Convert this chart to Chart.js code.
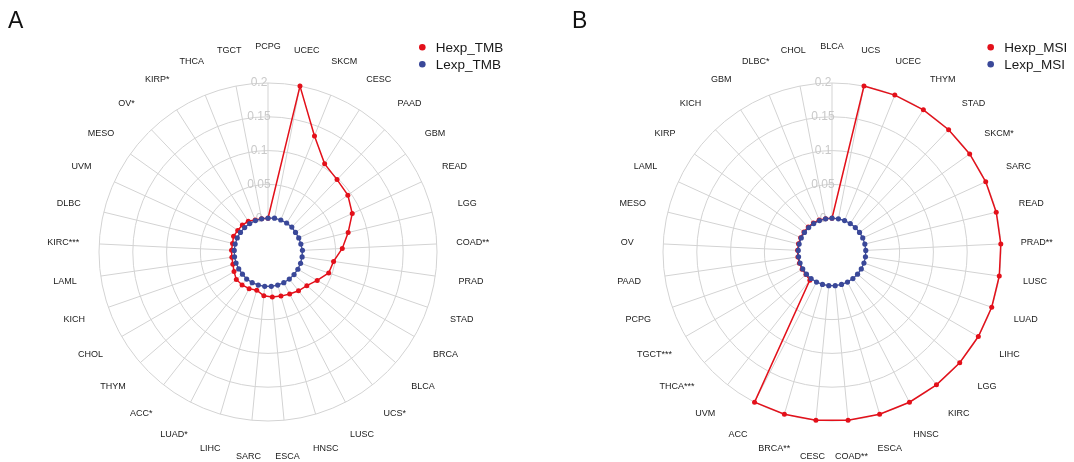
<!DOCTYPE html>
<html>
<head>
<meta charset="utf-8">
<script src="https://cdn.jsdelivr.net/npm/chart.js@4"></script>
<style>
  html, body { margin: 0; padding: 0; background: #fff; }
  #wrap { position: relative; width: 1074px; height: 462px; overflow: hidden; }
  .panel { position: absolute; top: 0; width: 537px; height: 462px; }
  .tag { position: absolute; top: 8px; font: 23px "Liberation Sans", Arial, sans-serif; color: #111; line-height: 1.117; }
</style>
</head>
<body>
<div id="wrap">
  <div class="panel" style="left:0"><canvas id="chartA"></canvas></div>
  <div class="panel" style="left:537px"><canvas id="chartB"></canvas></div>
  <div class="tag" style="left:8px">A</div>
  <div class="tag" style="left:572px">B</div>
</div>
<script>
// panel A: TMB
var labelsA = ['PCPG','UCEC','SKCM','CESC','PAAD','GBM','READ','LGG','COAD**','PRAD','STAD','BRCA','BLCA','UCS*','LUSC','HNSC','ESCA','SARC','LIHC','LUAD*','ACC*','THYM','CHOL','KICH','LAML','KIRC***','DLBC','UVM','MESO','OV*','KIRP*','THCA','TGCT'];
var hexpTMB = [0, 0.2, 0.135, 0.105, 0.098, 0.095, 0.087, 0.072, 0.06, 0.048, 0.045, 0.034, 0.026, 0.023, 0.02, 0.018, 0.017, 0.015, 0.009, 0.011, 0.012, 0.012, 0.008, 0.005, 0.004, 0.004, 0.004, 0.006, 0.005, 0.005, 0.004, 0.001, 0];
var lexpTMB = [0, 0.001, 0.001, 0.001, 0.001, 0, 0, 0, 0.001, 0.001, 0.001, 0.001, 0.001, 0.001, 0.001, 0.001, 0.001, 0.001, 0.001, 0.001, 0.001, 0, 0, 0, 0, 0, 0, 0, 0, 0, 0, 0, 0];

// panel B: MSI
var labelsB = ['BLCA','UCS','UCEC','THYM','STAD','SKCM*','SARC','READ','PRAD**','LUSC','LUAD','LIHC','LGG','KIRC','HNSC','ESCA','COAD**','CESC','BRCA**','ACC','UVM','THCA***','TGCT***','PCPG','PAAD','OV','MESO','LAML','KIRP','KICH','GBM','DLBC*','CHOL'];
var hexpMSI = [0, 0.2, 0.2, 0.2, 0.2, 0.2, 0.2, 0.2, 0.2, 0.2, 0.2, 0.2, 0.2, 0.2, 0.2, 0.2, 0.2, 0.2, 0.2, 0.2, 0.003, 0.001, 0.001, 0.001, 0.001, 0.001, 0.001, 0.001, 0.001, 0.001, 0.001, 0.001, 0];
var lexpMSI = [0, 0, 0, 0, 0, 0, 0, 0, 0, 0, 0, 0, 0, 0, 0, 0, 0, 0, 0, 0, 0, 0, 0, 0, 0, 0, 0, 0, 0, 0, 0, 0, 0];

var tickValues = [0, 0.05, 0.1, 0.15, 0.2];
var tickLabels = ['0', '0.05', '0.1', '0.15', '0.2'];

var RED = '#e3101a';
var BLUE = '#3a4899';
var FONT = '"Liberation Sans", Arial, sans-serif';

var radarExtras = {
  id: 'radarExtras',
  beforeDatasetsDraw: function(chart) {
    var r = chart.scales.r;
    var ctx = chart.ctx;
    var r0 = r.getDistanceFromCenterForValue(0);
    ctx.save();
    // blank centre inside the zero ring
    ctx.fillStyle = '#fff';
    ctx.beginPath();
    ctx.arc(r.xCenter, r.yCenter, r0 - 0.6, 0, Math.PI * 2);
    ctx.fill();
    // tick labels
    ctx.fillStyle = '#c9c9c9';
    ctx.font = '12px ' + FONT;
    ctx.textAlign = 'center';
    ctx.textBaseline = 'middle';
    for (var i = 0; i < tickValues.length; i++) {
      var d = r.getDistanceFromCenterForValue(tickValues[i]);
      ctx.fillText(tickLabels[i], r.xCenter - 9, r.yCenter - d);
    }
    // category labels
    ctx.fillStyle = '#1a1a1a';
    ctx.font = '9px ' + FONT;
    chart.data.labels.forEach(function(lab, j) {
      var p = r.getPointPosition(j, r.drawingArea + 36);
      ctx.fillText(lab, p.x, p.y);
    });
    ctx.restore();
  },
  afterDraw: function(chart) {
    var o = chart.options.plugins.radarExtras;
    var ctx = chart.ctx;
    var ds = chart.data.datasets.slice().reverse();
    ctx.save();
    ctx.font = '13.5px ' + FONT;
    ctx.textAlign = 'left';
    ctx.textBaseline = 'middle';
    ds.forEach(function(d, k) {
      var y = o.legendY + k * 17;
      ctx.fillStyle = d.borderColor;
      ctx.beginPath();
      ctx.arc(o.legendX, y, 3.3, 0, Math.PI * 2);
      ctx.fill();
      ctx.fillStyle = '#1a1a1a';
      ctx.fillText(d.label, o.legendX + 13.5, y + 0.5);
    });
    ctx.restore();
  }
};

function makeRadar(id, labels, hexp, lexp, hName, lName, pad, legendX) {
  var ctx = document.getElementById(id);
  return new Chart(ctx, {
    type: 'radar',
    data: {
      labels: labels,
      datasets: [
        {
          label: lName,
          data: lexp,
          borderColor: BLUE,
          backgroundColor: BLUE,
          pointBackgroundColor: BLUE,
          pointBorderWidth: 0,
          pointRadius: 2.6,
          borderWidth: 1.2,
          fill: false,
          clip: false
        },
        {
          label: hName,
          data: hexp,
          borderColor: RED,
          backgroundColor: RED,
          pointBackgroundColor: RED,
          pointBorderWidth: 0,
          pointRadius: 2.5,
          borderWidth: 1.5,
          fill: false,
          clip: false
        }
      ]
    },
    options: {
      responsive: false,
      animation: false,
      layout: { padding: pad },
      plugins: {
        legend: { display: false },
        tooltip: { enabled: false },
        radarExtras: { legendX: legendX, legendY: 47.3 }
      },
      scales: {
        r: {
          min: -0.05,
          max: 0.2,
          ticks: { display: false, stepSize: 0.05 },
          grid: { color: '#d3d3d3', lineWidth: 1, circular: true },
          angleLines: { color: '#d3d3d3', lineWidth: 1 },
          pointLabels: { display: false }
        }
      }
    },
    plugins: [radarExtras]
  });
}

var cA = document.getElementById('chartA');
cA.width = 537; cA.height = 462;
var cB = document.getElementById('chartB');
cB.width = 537; cB.height = 462;

makeRadar('chartA', labelsA, hexpTMB, lexpTMB, 'Hexp_TMB', 'Lexp_TMB',
  { left: 99, right: 100, top: 83, bottom: 41 }, 422.3);
makeRadar('chartB', labelsB, hexpMSI, lexpMSI, 'Hexp_MSI', 'Lexp_MSI',
  { left: 126, right: 73, top: 83, bottom: 41 }, 453.7);
</script>
</body>
</html>
